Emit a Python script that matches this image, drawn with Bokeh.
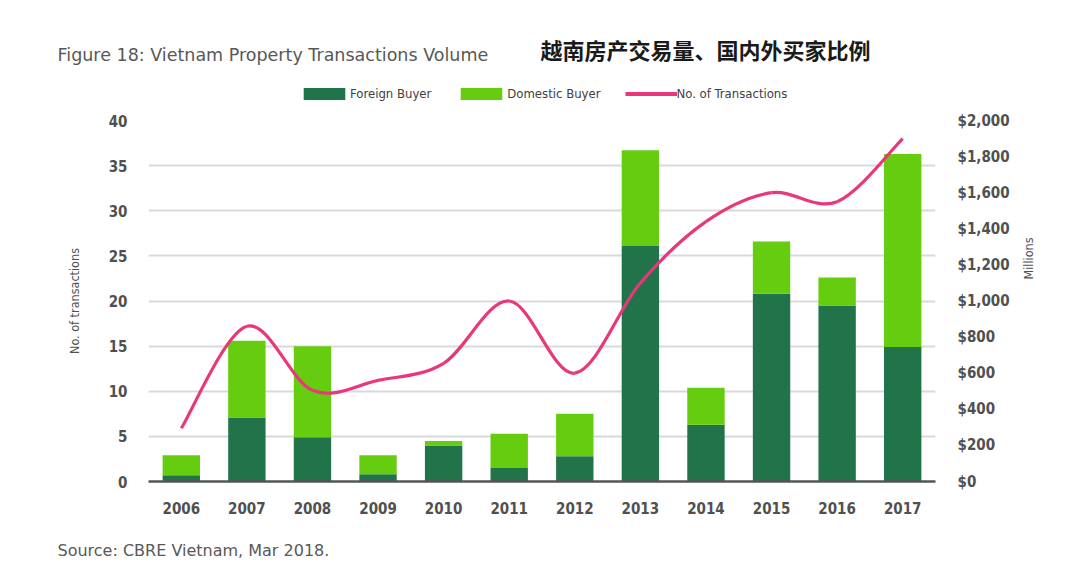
import math
from bokeh.plotting import figure
from bokeh.layouts import column, row
from bokeh.models import (Range1d, LinearAxis, Legend, LegendItem,
                          FixedTicker, NumeralTickFormatter, ColumnDataSource)
from bokeh.core.properties import value
from bokeh.embed import file_html
from bokeh.resources import INLINE

years = ["2006", "2007", "2008", "2009", "2010", "2011",
         "2012", "2013", "2014", "2015", "2016", "2017"]
foreign = [0.7, 7.1, 4.9, 0.8, 4.0, 1.5, 2.8, 26.1, 6.3, 20.8, 19.5, 14.9]
domestic = [2.2, 8.5, 10.1, 2.1, 0.5, 3.8, 4.7, 10.6, 4.1, 5.8, 3.1, 21.4]
transactions = [295, 860, 505, 560, 655, 1000, 600, 1100, 1440, 1600, 1550, 1900]

left_ticks = [0, 5, 10, 15, 20, 25, 30, 35, 40]
right_ticks = [0, 200, 400, 600, 800, 1000, 1200, 1400, 1600, 1800, 2000]

DARK = "#21734a"
LIGHT = "#66cc10"
PINK = "#e8377a"
COND = "'DejaVu Sans Condensed', Roboto, sans-serif"
TXT = "#505050"
W = 1064
MAIN_W = 1016

def bare(fig):
    fig.xaxis.visible = False
    fig.yaxis.visible = False
    fig.xgrid.visible = False
    fig.ygrid.visible = False
    fig.outline_line_color = None
    fig.frame_align = False
    return fig

# ---------- header: titles + legend ----------
head = bare(figure(width=W, height=110, output_backend="svg", toolbar_location=None,
                   x_range=Range1d(0, W), y_range=Range1d(110, 0), min_border=0))
head.text(x=[57], y=[54], text=["Figure 18: Vietnam Property Transactions Volume"],
          text_font=value("DejaVu Sans"), text_font_size="17.5px",
          text_color="#585858", text_baseline="middle")
head.text(x=[540], y=[48], text=["越南房产交易量、国内外买家比例"],
          text_font=value("Noto Sans CJK SC"), text_font_size="22px",
          text_font_style="bold", text_color="#1a1a1a", text_baseline="middle")
# legend proxies (placed outside the visible range)
r_f = head.vbar(x=[-500], top=[-500], width=1, color=DARK, line_color=None)
r_d = head.vbar(x=[-500], top=[-500], width=1, color=LIGHT, line_color=None)
r_l = head.line(x=[-600, -500], y=[-500, -500], line_color=PINK, line_width=4)
legend = Legend(items=[LegendItem(label="Foreign Buyer", renderers=[r_f]),
                       LegendItem(label="Domestic Buyer", renderers=[r_d]),
                       LegendItem(label="No. of Transactions", renderers=[r_l])],
                orientation="horizontal", location=(298, 9),
                glyph_width=52, glyph_height=15, label_standoff=0, spacing=24,
                padding=0, margin=0, border_line_color=None,
                background_fill_alpha=0, label_text_font=COND,
                label_text_font_size="13px", label_text_color="#404040",
                label_height=15)
head.add_layout(legend)

# ---------- main chart ----------
p = figure(width=MAIN_W, height=420, output_backend="svg", toolbar_location=None,
           x_range=Range1d(-0.5, len(years) - 0.5), y_range=Range1d(0, 40),
           min_border_left=148, min_border_right=MAIN_W - 935, min_border_top=10,
           min_border_bottom=49, outline_line_color=None)
p.frame_align = False
p.extra_y_ranges = {"m": Range1d(0, 2000)}

xs = list(range(len(years)))
src = ColumnDataSource(dict(x=xs, foreign=foreign, domestic=domestic))
p.vbar_stack(["foreign", "domestic"], x="x", width=0.57, source=src,
             color=[DARK, LIGHT], line_color=None)

# smooth line through the transaction points (Catmull-Rom as bezier segments)
n = len(transactions)
x0, y0, x1, y1, cx0, cy0, cx1, cy1 = [], [], [], [], [], [], [], []
for i in range(n - 1):
    im, ip = max(i - 1, 0), min(i + 2, n - 1)
    x0.append(xs[i]); y0.append(transactions[i])
    x1.append(xs[i + 1]); y1.append(transactions[i + 1])
    cx0.append(xs[i] + (xs[i + 1] - xs[im]) / 6)
    cy0.append(transactions[i] + (transactions[i + 1] - transactions[im]) / 6)
    cx1.append(xs[i + 1] - (xs[ip] - xs[i]) / 6)
    cy1.append(transactions[i + 1] - (transactions[ip] - transactions[i]) / 6)
p.bezier(x0=x0, y0=y0, x1=x1, y1=y1, cx0=cx0, cy0=cy0, cx1=cx1, cy1=cy1,
         line_color=PINK, line_width=3.2, y_range_name="m")

def style_ticks(ax):
    ax.major_tick_line_color = None
    ax.minor_tick_line_color = None
    ax.major_tick_out = 0
    ax.major_tick_in = 0
    ax.minor_tick_out = 0
    ax.major_label_text_font = COND
    ax.major_label_text_font_size = "15px"
    ax.major_label_text_font_style = "bold"
    ax.major_label_text_color = TXT

p.xaxis.ticker = FixedTicker(ticks=xs)
p.xaxis.major_label_overrides = {i: y for i, y in enumerate(years)}
p.xaxis.axis_line_color = "#555555"
p.xaxis.axis_line_width = 2.5
style_ticks(p.xaxis[0])
p.xaxis.major_label_standoff = 20

p.yaxis.ticker = FixedTicker(ticks=left_ticks)
p.yaxis.axis_line_color = None
style_ticks(p.yaxis[0])
p.yaxis.major_label_standoff = 21
p.yaxis.axis_label = "No. of transactions"
p.yaxis.axis_label_standoff = 24
p.yaxis.axis_label_text_font = COND
p.yaxis.axis_label_text_font_size = "12.5px"
p.yaxis.axis_label_text_font_style = "normal"
p.yaxis.axis_label_text_color = TXT

ra = LinearAxis(y_range_name="m", ticker=FixedTicker(ticks=right_ticks),
                formatter=NumeralTickFormatter(format="$0,0"))
ra.axis_line_color = None
style_ticks(ra)
ra.major_label_standoff = 22
p.add_layout(ra, "right")

p.xgrid.grid_line_color = None
p.ygrid.ticker = FixedTicker(ticks=left_ticks)
p.ygrid.grid_line_color = "#d9d9d9"
p.ygrid.grid_line_width = 2

# ---------- right side: "Millions" axis title ----------
side = bare(figure(width=W - MAIN_W, height=420, output_backend="svg",
                   toolbar_location=None, x_range=Range1d(MAIN_W, W),
                   y_range=Range1d(0, 420), min_border=0))
side.text(x=[1028], y=[272], text=["Millions"], angle=math.pi / 2,
          text_font=value("DejaVu Sans Condensed"), text_font_size="12.5px",
          text_color=TXT, text_align="center", text_baseline="middle")

# ---------- footer: source ----------
foot = bare(figure(width=W, height=36, output_backend="svg", toolbar_location=None,
                   x_range=Range1d(0, W), y_range=Range1d(36, 0), min_border=0))
foot.text(x=[57], y=[20], text=["Source: CBRE Vietnam, Mar 2018."],
          text_font=value("DejaVu Sans"), text_font_size="16px",
          text_color="#585858", text_baseline="middle")

layout = column(head, row(p, side, spacing=0), foot, spacing=0)
open("out.html", "w").write(file_html(layout, INLINE))
